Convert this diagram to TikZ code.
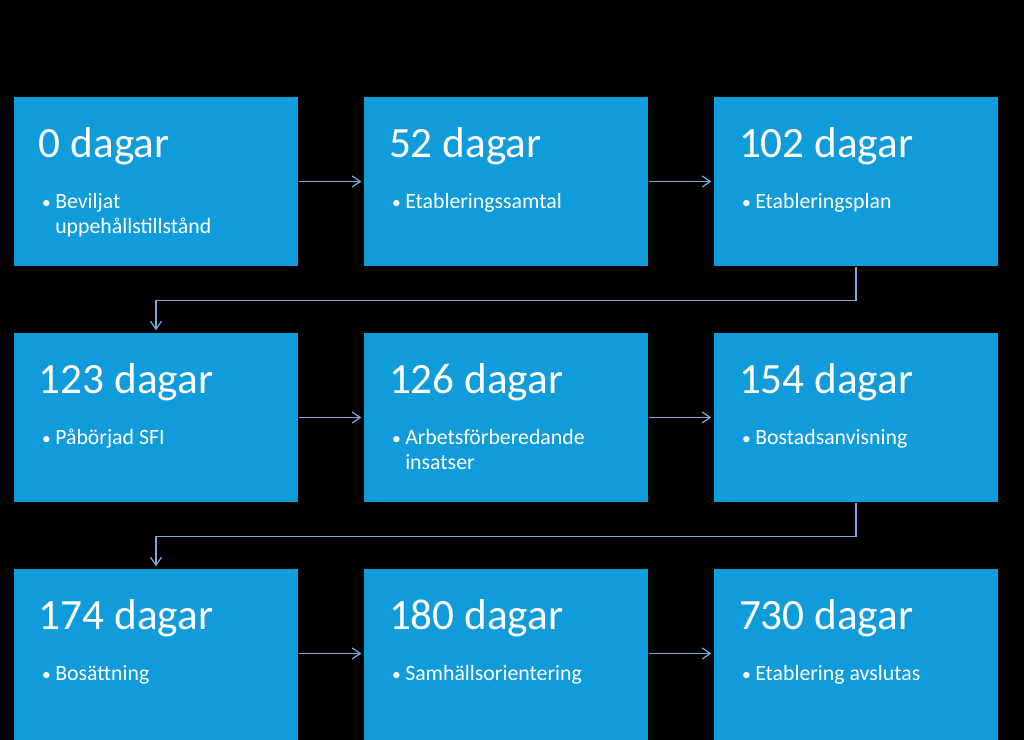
\documentclass[tikz,border=0pt]{standalone}
\usepackage{fontspec}
\setmainfont{Carlito}
\usetikzlibrary{positioning,arrows.meta}
\definecolor{boxblue}{RGB}{16,155,218}
\definecolor{linkblue}{RGB}{125,168,220}
\newcommand{\itemdot}{{\fontsize{5}{7}\selectfont\textbullet}\hspace{0.45mm}}
\tikzset{
	stage/.style={draw=none,fill=boxblue,minimum width=2.84cm,minimum height=1.69cm,inner sep=0pt},
	days/.style={anchor=base west,inner sep=0pt,text=white,font=\fontsize{12.3}{14}\selectfont},
	item/.style={anchor=base west,inner sep=0pt,text=white,align=left,font=\fontsize{6.2}{7.1}\selectfont},
	link/.style={draw=linkblue,line width=0.35pt,-{Straight Barb[length=0.8mm,width=1.1mm]}}
}
\newcommand{\stagebox}[5]{%
	\node (#1)[stage] at (#2,#3) {};
	\node (#1t)[days] at ([xshift=0.25cm,yshift=-0.61cm]#1.north west) {#4};
	\node (#1i)[item] at ([xshift=0.28cm,yshift=-1.12cm]#1.north west) {\itemdot\begin{tabular}[t]{@{}l@{}}#5\end{tabular}};
}
\begin{document}
\begin{tikzpicture}
	\fill[black] (0,0) rectangle (10.24,-7.40);
	\useasboundingbox (0,0) rectangle (10.24,-7.40);
	\begin{scope}
		\clip (0,0) rectangle (10.24,-7.40);
		\stagebox{a}{1.56}{-1.815}{0 dagar}{Beviljat\\uppehållstillstånd}
		\stagebox{b}{5.06}{-1.815}{52 dagar}{Etableringssamtal}
		\stagebox{c}{8.56}{-1.815}{102 dagar}{Etableringsplan}
		\stagebox{d}{1.56}{-4.175}{123 dagar}{Påbörjad SFI}
		\stagebox{e}{5.06}{-4.175}{126 dagar}{Arbetsförberedande\\insatser}
		\stagebox{f}{8.56}{-4.175}{154 dagar}{Bostadsanvisning}
		\node (g)[stage,minimum height=1.75cm] at (1.56,-6.565) {};
		\node (gt)[days] at ([xshift=0.25cm,yshift=-0.61cm]g.north west) {174 dagar};
		\node (gi)[item] at ([xshift=0.28cm,yshift=-1.12cm]g.north west) {\itemdot Bosättning};
		\node (h)[stage,minimum height=1.75cm] at (5.06,-6.565) {};
		\node (ht)[days] at ([xshift=0.25cm,yshift=-0.61cm]h.north west) {180 dagar};
		\node (hi)[item] at ([xshift=0.28cm,yshift=-1.12cm]h.north west) {\itemdot Samhällsorientering};
		\node (k)[stage,minimum height=1.75cm] at (8.56,-6.565) {};
		\node (kt)[days] at ([xshift=0.25cm,yshift=-0.61cm]k.north west) {730 dagar};
		\node (ki)[item] at ([xshift=0.28cm,yshift=-1.12cm]k.north west) {\itemdot Etablering avslutas};
	\end{scope}
	\draw[link] (a.east) -- ([xshift=-0.02cm]b.west);
	\draw[link] (b.east) -- ([xshift=-0.02cm]c.west);
	\draw[link] (c.south) -- ++(0,-0.34) -| ([yshift=0.02cm]d.north);
	\draw[link] (d.east) -- ([xshift=-0.02cm]e.west);
	\draw[link] (e.east) -- ([xshift=-0.02cm]f.west);
	\draw[link] (f.south) -- ++(0,-0.34) -| ([yshift=0.02cm]g.north);
	\draw[link] ([yshift=0.03cm]g.east) -- ([xshift=-0.02cm,yshift=0.03cm]h.west);
	\draw[link] ([yshift=0.03cm]h.east) -- ([xshift=-0.02cm,yshift=0.03cm]k.west);
\end{tikzpicture}
\end{document}
